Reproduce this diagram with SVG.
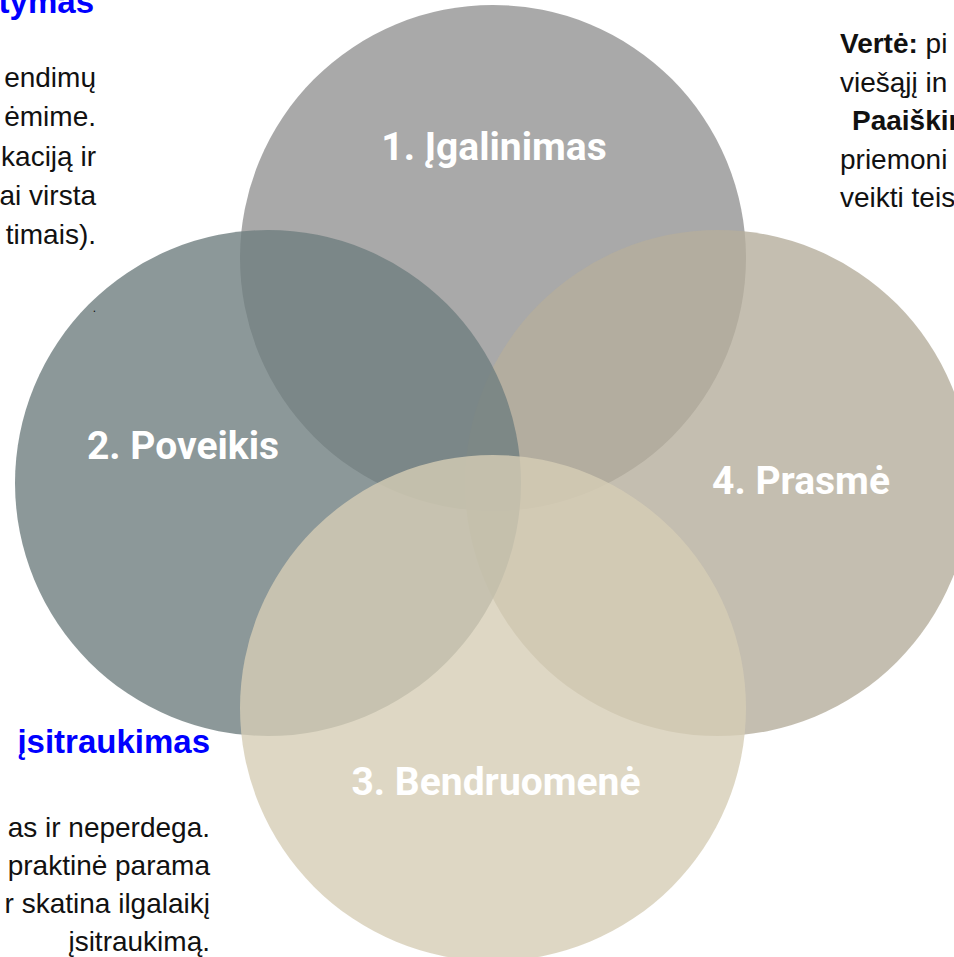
<svg xmlns="http://www.w3.org/2000/svg" width="954" height="957" viewBox="0 0 954 957">
<style>
.c{opacity:0.8}
.lbl{font-family:Roboto,"Noto Sans",sans-serif;font-weight:700;font-size:39px;fill:#ffffff;text-anchor:middle}
.body{font-family:"Liberation Sans",Arial,sans-serif;font-size:28px;fill:#111111}
.ttl{font-family:"Liberation Sans",Arial,sans-serif;font-size:33px;font-weight:700;fill:#0000ff}
.b{font-weight:700}
</style>
<rect width="954" height="957" fill="#ffffff"/>
<g id="node-1"><circle class="c" cx="493" cy="258" r="253" fill="#949494"/></g>
<g id="node-4"><circle class="c" cx="718" cy="483" r="253" fill="#b5ae9c"/></g>
<g id="node-2"><circle class="c" cx="268" cy="483" r="253" fill="#6f7e80"/></g>
<g id="node-3"><circle class="c" cx="493" cy="708" r="253" fill="#d6cdb5"/></g>
<g id="labels">
<text class="lbl" x="494" y="160">1. Įgalinimas</text>
<text class="lbl" x="183" y="459">2. Poveikis</text>
<text class="lbl" x="801" y="494">4. Prasmė</text>
<text class="lbl" x="496" y="795">3. Bendruomenė</text>
</g>
<g id="note-top-left" text-anchor="end">
<text class="ttl" x="94" y="13">tymas</text>
<text class="body" x="96" y="87">endimų</text>
<text class="body" x="96" y="126">ėmime.</text>
<text class="body" x="96" y="166">kaciją ir</text>
<text class="body" x="96" y="205">ai virsta</text>
<text class="body" x="96" y="244">timais).</text>
<text class="body" x="96" y="312" style="font-size:12px">.</text>
</g>
<g id="note-bottom-left" text-anchor="end">
<text class="ttl" x="210" y="753">įsitraukimas</text>
<text class="body" x="210" y="837">as ir neperdega.</text>
<text class="body" x="210" y="875">praktinė parama</text>
<text class="body" x="210" y="913">r skatina ilgalaikį</text>
<text class="body" x="210" y="951">įsitraukimą.</text>
</g>
<g id="note-top-right">
<text class="body" x="840" y="53"><tspan class="b">Vertė:</tspan> pi</text>
<text class="body" x="840" y="92">viešąjį in</text>
<text class="body b" x="852" y="130">Paaiškin</text>
<text class="body" x="840" y="169">priemoni</text>
<text class="body" x="840" y="207">veikti teis</text>
</g>
</svg>
